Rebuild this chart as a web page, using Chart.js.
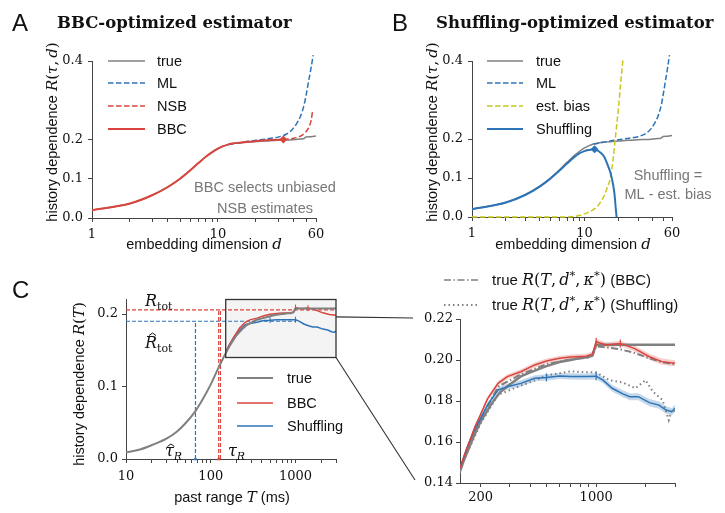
<!DOCTYPE html>
<html>
<head>
<meta charset="utf-8">
<script src="https://cdn.jsdelivr.net/npm/chart.js@4.4.0/dist/chart.umd.min.js"></script>
<style>
html, body { margin: 0; padding: 0; background: #fff; }
#wrap { position: relative; width: 725px; height: 513px; overflow: hidden; }
canvas { position: absolute; left: 0; top: 0; }
</style>
</head>
<body>
<div id="wrap">
  <canvas id="chartA" width="725" height="513"></canvas>
  <canvas id="chartB" width="725" height="513"></canvas>
  <canvas id="chartC" width="725" height="513"></canvas>
  <canvas id="chartZ" width="725" height="513"></canvas>
</div>
<script>
// A, B: embedding dimension d
const dTrue = [1, 2, 3, 4, 5, 6, 7, 8, 9, 10, 11, 12, 13, 15, 17, 20, 23, 26, 30, 33, 37, 41, 45, 48, 50, 55, 60];
const rTrue = [0.02, 0.037, 0.058, 0.079, 0.1, 0.121, 0.14, 0.156, 0.168, 0.177, 0.183, 0.187, 0.189, 0.192, 0.193, 0.195, 0.196, 0.197, 0.198, 0.1985, 0.199, 0.2, 0.2015, 0.202, 0.2065, 0.207, 0.209];

const dBBC = [1, 2, 3, 4, 5, 6, 7, 8, 9, 10, 11, 12, 13, 15, 17, 20, 23, 26, 30, 33];
const rBBC = [0.02, 0.037, 0.058, 0.079, 0.1, 0.121, 0.14, 0.156, 0.168, 0.177, 0.183, 0.187, 0.19, 0.192, 0.194, 0.196, 0.1975, 0.1985, 0.1995, 0.2];

const dNSB = [33, 36, 40, 44, 47, 50, 53, 55, 56.5];
const rNSB = [0.2, 0.201, 0.203, 0.207, 0.212, 0.22, 0.233, 0.25, 0.275];

const dML = [12, 15, 17, 20, 25, 30, 35, 39, 42, 45, 48, 50, 53, 55, 57];
const rML = [0.187, 0.192, 0.195, 0.198, 0.202, 0.206, 0.214, 0.226, 0.24, 0.258, 0.285, 0.312, 0.357, 0.385, 0.415];

const dBias = [1, 3, 6, 8, 9, 10, 11, 12, 13, 14, 15, 16, 17, 18, 19, 20, 21, 22];
const rBias = [0, 0, 0, 0.001, 0.004, 0.008, 0.013, 0.019, 0.027, 0.04, 0.055, 0.077, 0.1, 0.15, 0.215, 0.275, 0.345, 0.405];

const dShuf = [1, 2, 3, 4, 5, 6, 7, 8, 9, 10, 11, 12, 13, 14, 15, 16, 17, 18, 18.5, 19, 19.3];
const rShuf = [0.02, 0.037, 0.057, 0.078, 0.099, 0.119, 0.137, 0.152, 0.163, 0.169, 0.172, 0.174, 0.171, 0.164, 0.154, 0.135, 0.114, 0.082, 0.058, 0.02, 0];

const starA = [33, 0.2];      // BBC 선택 (d, R)
const starB = [12.3, 0.174];  // Shuffling 선택 (d, R)

const dRange = [1, 60];
const dTicks = [1, 2, 3, 4, 5, 6, 7, 8, 9, 10, 20, 30, 40, 50, 60];
const dLabels = [1, 10, 60];
const rTicksAB = [0, 0.1, 0.2, 0.4];

// C: past range T (ms)
const tTrue = [10, 15, 20, 30, 40, 50, 65, 80, 100, 120, 140, 160, 180, 200, 230, 260, 300, 350, 400, 500, 600, 700, 800, 900, 950, 1000, 1500, 2000, 3000];
const rTrueT = [0.009, 0.0135, 0.019, 0.028, 0.038, 0.049, 0.065, 0.082, 0.103, 0.123, 0.139, 0.152, 0.162, 0.17, 0.178, 0.184, 0.188, 0.192, 0.194, 0.197, 0.199, 0.2, 0.201, 0.2015, 0.2025, 0.2075, 0.2075, 0.2075, 0.2075];

const tBBC = [150, 165, 185, 200, 220, 255, 290, 350, 425, 500, 600, 700, 870, 950, 1000, 1150, 1400, 1700, 2100, 2500, 3000];
const rBBCT = [0.1473, 0.157, 0.1675, 0.1735, 0.181, 0.1886, 0.1919, 0.1943, 0.1976, 0.1995, 0.2008, 0.2015, 0.2018, 0.2028, 0.2089, 0.2073, 0.2081, 0.2057, 0.2016, 0.1992, 0.1984];
const bbcBand = [0.0008, 0.0009, 0.001, 0.001, 0.0011, 0.0012, 0.0012, 0.0012, 0.0012, 0.0012, 0.0012, 0.0012, 0.0012, 0.0013, 0.0013, 0.0013, 0.0013, 0.0014, 0.0015, 0.0015, 0.0015];

const tShuf = [150, 165, 185, 200, 220, 255, 290, 350, 425, 500, 600, 700, 870, 1000, 1100, 1250, 1450, 1600, 1800, 2100, 2400, 2650, 2870, 3000];
const rShufT = [0.1473, 0.157, 0.1665, 0.1715, 0.178, 0.1854, 0.187, 0.1886, 0.1911, 0.1915, 0.1922, 0.192, 0.1919, 0.1921, 0.1902, 0.1862, 0.1835, 0.1821, 0.1821, 0.1792, 0.178, 0.1756, 0.1748, 0.1765];
const shufBand = [0.0008, 0.0009, 0.001, 0.0011, 0.0012, 0.0013, 0.0014, 0.0015, 0.0015, 0.0015, 0.0015, 0.0015, 0.0015, 0.0016, 0.0016, 0.0016, 0.0017, 0.0017, 0.0017, 0.0018, 0.0018, 0.0018, 0.0018, 0.0018];

const tBBCtrue = [150, 200, 255, 350, 500, 700, 870, 950, 1000, 1150, 1400, 1700, 2100, 2500, 3000];
const rBBCtrue = [0.147, 0.171, 0.187, 0.193, 0.198, 0.2003, 0.201, 0.202, 0.2066, 0.2062, 0.2052, 0.2035, 0.2008, 0.199, 0.1978];

const tShufTrue = [150, 200, 255, 350, 425, 500, 600, 700, 870, 1000, 1200, 1450, 1730, 1990, 2200, 2520, 2750, 2870, 3000];
const rShufTrue = [0.147, 0.169, 0.183, 0.1875, 0.19, 0.1925, 0.1935, 0.1945, 0.194, 0.194, 0.1902, 0.189, 0.1862, 0.1902, 0.1846, 0.1805, 0.1707, 0.1756, 0.175];

const tBBCmark = [1000, 1400];
const rBBCmark = [0.2089, 0.2081];
const tShufMark = [500, 1000];
const rShufMark = [0.1915, 0.1921];

const rTot = 0.2058;
const rTotHat = 0.19;
const tauR = [124, 130];
const tauRHat = 66;

const tRange = [10, 3000];
const tTicks = [10, 20, 30, 40, 50, 60, 70, 80, 90, 100, 200, 300, 400, 500, 600, 700, 800, 900, 1000, 2000, 3000];
const tLabels = [10, 100, 1000];
const rTicksC = [0, 0.1, 0.2];
const rRangeC = [0, 0.22];

// 확대 영역
const zoomT = [150, 3000];
const zoomR = [0.14, 0.22];
const zTicks = [200, 300, 400, 500, 600, 700, 800, 900, 1000, 2000, 3000];
const zLabels = [200, 1000];
const rTicksZ = [0.14, 0.16, 0.18, 0.2, 0.22];

// 스타일
const SANS = '"Liberation Sans", Arial, sans-serif';
const SERIF = '"DejaVu Serif", serif';
const RED = '#d9453d';
const BLUE = '#2d74b7';
const GRAY = '#808080';
const YELLOW = '#c8c81e';
const INK = '#111';
const AXIS = '#444';
const DASH = [5.5, 2.5];
const DASHDOT = [7, 2.5, 1.5, 2.5];
const DOTS = [1.5, 3];
const TXT = 14.5;

Chart.defaults.font.family = SERIF;
Chart.defaults.font.size = 13;
Chart.defaults.color = INK;

function pts(xs, ys) {
    return xs.map((x, i) => ({ x: x, y: ys[i] }));
}

function line(xs, ys, color, extra) {
    return Object.assign({
        data: pts(xs, ys),
        showLine: true,
        borderColor: color,
        backgroundColor: color,
        borderWidth: 1.5,
        pointRadius: 0,
        fill: false,
        cubicInterpolationMode: 'monotone'
    }, extra || {});
}

function font(size, o) {
    o = o || {};
    return (o.italic ? 'italic ' : '') + (o.bold ? 'bold ' : '') + size + 'px ' + (o.serif ? SERIF : SANS);
}

// 여러 글꼴이 섞인 텍스트: [text, font, dy, hat]
function drawRuns(ctx, runs, x, y, align, color) {
    ctx.save();
    ctx.fillStyle = color || INK;
    ctx.strokeStyle = color || INK;
    ctx.textBaseline = 'alphabetic';
    ctx.textAlign = 'left';
    let w = 0;
    runs.forEach(r => { ctx.font = r[1]; w += ctx.measureText(r[0]).width; });
    let cx = align === 'center' ? x - w / 2 : (align === 'right' ? x - w : x);
    runs.forEach(r => {
        ctx.font = r[1];
        const yy = y + (r[2] || 0);
        ctx.fillText(r[0], cx, yy);
        const ww = ctx.measureText(r[0]).width;
        if (r[3]) {
            const c = cx + ww / 2 + 1.5;
            const top = yy - r[3];
            ctx.lineWidth = 1;
            ctx.beginPath();
            ctx.moveTo(c - 3.5, top + 2.5);
            ctx.lineTo(c, top);
            ctx.lineTo(c + 3.5, top + 2.5);
            ctx.stroke();
        }
        cx += ww;
    });
    ctx.restore();
}

function drawYTitle(ctx, runs, cx, cy) {
    ctx.save();
    ctx.translate(cx, cy);
    ctx.rotate(-Math.PI / 2);
    drawRuns(ctx, runs, 0, 5, 'center');
    ctx.restore();
}

function drawLegend(ctx, items, x0, x1, xText, rows) {
    items.forEach((it, i) => {
        const y = rows[i];
        ctx.save();
        ctx.strokeStyle = it.color;
        ctx.lineWidth = it.width || 1.5;
        ctx.setLineDash(it.dash || []);
        ctx.beginPath();
        ctx.moveTo(x0, y);
        ctx.lineTo(x1, y);
        ctx.stroke();
        ctx.restore();
        drawRuns(ctx, it.runs, xText, y + 5, 'left');
    });
}

function logAxis(range, ticks, labels, pad) {
    return {
        type: 'logarithmic',
        min: range[0],
        max: range[1],
        afterBuildTicks: s => { s.ticks = ticks.map(v => ({ value: v })); },
        afterFit: s => { s.height = 30; },
        ticks: {
            autoSkip: false, maxRotation: 0, padding: pad,
            callback: v => labels.includes(v) ? String(v) : ''
        },
        grid: { drawOnChartArea: false, tickLength: 4, color: AXIS },
        border: { color: AXIS, width: 1 }
    };
}

function linAxis(range, ticks, digits, pad) {
    return {
        type: 'linear',
        min: range[0],
        max: range[1],
        afterBuildTicks: s => { s.ticks = ticks.map(v => ({ value: v })); },
        afterFit: s => { s.width = 50; },
        ticks: { padding: pad, callback: v => v.toFixed(digits) },
        grid: { drawOnChartArea: false, tickLength: 4, color: AXIS },
        border: { color: AXIS, width: 1 }
    };
}

// 아래→위 순서로 받은 레이어에 그리기 순서 지정
function layered(list) {
    list.forEach((ds, i) => { ds.order = -i; });
    return list;
}

function makeChart(id, area, datasets, xAxis, yAxis, plugin) {
    return new Chart(document.getElementById(id), {
        type: 'scatter',
        data: { datasets: layered(datasets) },
        options: {
            responsive: false,
            animation: false,
            devicePixelRatio: 1,
            events: [],
            layout: {
                padding: {
                    left: area.left - 50,
                    top: area.top,
                    right: 725 - area.right,
                    bottom: 513 - area.bottom - 30
                }
            },
            scales: { x: xAxis, y: yAxis },
            plugins: { legend: { display: false }, tooltip: { enabled: false } }
        },
        plugins: [plugin]
    });
}

const mathFont = s => font(s, { serif: 1, italic: 1 });
const romFont = s => font(s, { serif: 1 });

const yTitleAB = [
    ['history dependence ', font(TXT)], ['R', mathFont(15)], ['(', romFont(15)],
    ['τ', mathFont(15)], [',\u2009', romFont(15)], ['d', mathFont(15)], [')', romFont(15)]
];
const xTitleAB = [['embedding dimension ', font(TXT)], ['d', mathFont(15)]];

// A: BBC
const chartA = makeChart('chartA', { left: 92, top: 61, right: 316, bottom: 218 }, [
    line(dTrue, rTrue, GRAY),
    line(dML, rML, BLUE, { borderDash: DASH, clip: false }),
    line(dNSB, rNSB, RED, { borderDash: DASH, clip: false }),
    line(dBBC, rBBC, RED, { borderWidth: 2 }),
    { data: pts([starA[0]], [starA[1]]), pointStyle: 'rectRot', pointRadius: 4, backgroundColor: RED, borderColor: RED, borderWidth: 0, clip: false }
], logAxis(dRange, dTicks, dLabels, 5), linAxis([0, 0.4], rTicksAB, 1, 5), {
    id: 'decorA',
    afterDraw(chart) {
        const ctx = chart.ctx;
        drawRuns(ctx, [['A', font(24)]], 12, 31, 'left');
        drawRuns(ctx, [['BBC-optimized estimator', font(16.5, { serif: 1, bold: 1 })]], 57, 28, 'left');
        drawLegend(ctx, [
            { color: GRAY, runs: [['true', font(TXT)]] },
            { color: BLUE, dash: DASH, runs: [['ML', font(TXT)]] },
            { color: RED, dash: DASH, runs: [['NSB', font(TXT)]] },
            { color: RED, width: 2, runs: [['BBC', font(TXT)]] }
        ], 108, 145, 157, [61, 83, 106, 129]);
        drawRuns(ctx, [['BBC selects unbiased', font(TXT)]], 265, 192, 'center', '#777');
        drawRuns(ctx, [['NSB estimates', font(TXT)]], 265, 213, 'center', '#777');
        drawYTitle(ctx, yTitleAB, 52, 132);
        drawRuns(ctx, xTitleAB, 204, 249, 'center');
    }
});

// B: Shuffling
const chartB = makeChart('chartB', { left: 472, top: 61, right: 672, bottom: 217 }, [
    line(dTrue, rTrue, GRAY),
    line(dML, rML, BLUE, { borderDash: DASH, clip: false }),
    line(dBias, rBias, YELLOW, { borderDash: DASH, clip: false }),
    line(dShuf, rShuf, BLUE, { borderWidth: 2 }),
    { data: pts([starB[0]], [starB[1]]), pointStyle: 'rectRot', pointRadius: 4, backgroundColor: BLUE, borderColor: BLUE, borderWidth: 0, clip: false }
], logAxis(dRange, dTicks, dLabels, 5), linAxis([0, 0.4], rTicksAB, 1, 5), {
    id: 'decorB',
    afterDraw(chart) {
        const ctx = chart.ctx;
        drawRuns(ctx, [['B', font(24)]], 392, 31, 'left');
        drawRuns(ctx, [['Shuffling-optimized estimator', font(16.5, { serif: 1, bold: 1 })]], 436, 28, 'left');
        drawLegend(ctx, [
            { color: GRAY, runs: [['true', font(TXT)]] },
            { color: BLUE, dash: DASH, runs: [['ML', font(TXT)]] },
            { color: YELLOW, dash: DASH, runs: [['est. bias', font(TXT)]] },
            { color: BLUE, width: 2, runs: [['Shuffling', font(TXT)]] }
        ], 487, 523, 536, [61, 83, 106, 129]);
        drawRuns(ctx, [['Shuffling =', font(TXT)]], 668, 180, 'center', '#777');
        drawRuns(ctx, [['ML - est. bias', font(TXT)]], 668, 199, 'center', '#777');
        drawYTitle(ctx, yTitleAB, 432, 132);
        drawRuns(ctx, xTitleAB, 573, 249, 'center');
    }
});

// C: past range
const GUIDE = [4, 2];
const guideLine = (xs, ys, color) => line(xs, ys, color, { borderWidth: 1.2, borderDash: GUIDE, cubicInterpolationMode: 'default' });

const chartC = makeChart('chartC', { left: 126, top: 299.5, right: 336, bottom: 459 }, [
    guideLine([tRange[0], tShufMark[1]], [rTotHat, rTotHat], BLUE),
    guideLine([tauRHat, tauRHat], [0, rTotHat], BLUE),
    guideLine([tRange[0], tRange[1]], [rTot, rTot], RED),
    guideLine([tauR[0], tauR[0]], [0, rTot], RED),
    guideLine([tauR[1], tauR[1]], [0, rTot], RED),
    line(tShuf, rShufT, BLUE, { cubicInterpolationMode: 'default' }),
    line(tBBC, rBBCT, RED, { cubicInterpolationMode: 'default' }),
    line(tTrue, rTrueT, GRAY, { borderWidth: 2 }),
    { data: pts(tBBCmark, rBBCmark), pointStyle: 'line', rotation: 90, pointRadius: 3, borderColor: RED, borderWidth: 1 },
    { data: pts(tShufMark, rShufMark), pointStyle: 'line', rotation: 90, pointRadius: 3, borderColor: BLUE, borderWidth: 1 },
    { data: pts([tauRHat], [0]), pointStyle: 'triangle', pointRadius: 2.5, backgroundColor: BLUE, borderColor: BLUE, borderWidth: 0, clip: false },
    { data: pts([tauR[0]], [0]), pointStyle: 'triangle', pointRadius: 2.5, backgroundColor: RED, borderColor: RED, borderWidth: 0, clip: false }
], logAxis(tRange, tTicks, tLabels, 6), linAxis(rRangeC, rTicksC, 1, 4), {
    id: 'decorC',
    beforeDatasetsDraw(chart) {
        const ctx = chart.ctx, xs = chart.scales.x, ys = chart.scales.y;
        const x0 = xs.getPixelForValue(zoomT[0]), x1 = xs.getPixelForValue(zoomT[1]);
        const y0 = ys.getPixelForValue(zoomR[1]), y1 = ys.getPixelForValue(zoomR[0]);
        ctx.save();
        ctx.fillStyle = '#f4f4f4';
        ctx.fillRect(x0, y0, x1 - x0, y1 - y0);
        ctx.restore();
    },
    afterDraw(chart) {
        const ctx = chart.ctx, xs = chart.scales.x, ys = chart.scales.y;
        const x0 = xs.getPixelForValue(zoomT[0]), x1 = xs.getPixelForValue(zoomT[1]);
        const y0 = ys.getPixelForValue(zoomR[1]), y1 = ys.getPixelForValue(zoomR[0]);
        ctx.save();
        ctx.strokeStyle = '#333';
        ctx.lineWidth = 1.3;
        ctx.strokeRect(x0, y0, x1 - x0, y1 - y0);
        ctx.restore();

        drawRuns(ctx, [['C', font(24)]], 12, 298, 'left');
        drawLegend(ctx, [
            { color: GRAY, width: 2, runs: [['true', font(TXT)]] },
            { color: RED, runs: [['BBC', font(TXT)]] },
            { color: BLUE, runs: [['Shuffling', font(TXT)]] }
        ], 237, 273, 287, [378, 403, 426]);
        drawRuns(ctx, [['R', mathFont(16)], ['tot', romFont(11), 4]], 145, 306, 'left');
        drawRuns(ctx, [['R', mathFont(16), 0, 15], ['tot', romFont(11), 4]], 145, 348, 'left');
        drawRuns(ctx, [['τ', mathFont(16), 0, 12], ['R', mathFont(11), 4]], 165, 456, 'left');
        drawRuns(ctx, [['τ', mathFont(16)], ['R', mathFont(11), 4]], 228, 456, 'left');
        drawYTitle(ctx, [['history dependence ', font(TXT)], ['R', mathFont(15)], ['(', romFont(15)], ['T', mathFont(15)], [')', romFont(15)]], 79, 384);
        drawRuns(ctx, [['past range ', font(TXT)], ['T', mathFont(15)], [' (ms)', font(TXT)]], 232, 502, 'center');
    }
});

// 확대 패널
const bandBBC = [
    line(tBBC, rBBCT.map((r, i) => r + bbcBand[i]), 'rgba(0,0,0,0)', { borderWidth: 0, cubicInterpolationMode: 'default' }),
    line(tBBC, rBBCT.map((r, i) => r - bbcBand[i]), 'rgba(0,0,0,0)', { borderWidth: 0, fill: '-1', backgroundColor: 'rgba(217,69,61,0.25)', cubicInterpolationMode: 'default' })
];
const bandShuf = [
    line(tShuf, rShufT.map((r, i) => r + shufBand[i]), 'rgba(0,0,0,0)', { borderWidth: 0, cubicInterpolationMode: 'default' }),
    line(tShuf, rShufT.map((r, i) => r - shufBand[i]), 'rgba(0,0,0,0)', { borderWidth: 0, fill: '-1', backgroundColor: 'rgba(45,116,183,0.28)', cubicInterpolationMode: 'default' })
];
const zArea = { left: 460, top: 319, right: 675, bottom: 483 };
const zLegendMath = [
    ['true ', font(15)], ['R', mathFont(16)], ['(', romFont(16)], ['T', mathFont(16)], [',\u2009', romFont(16)],
    ['d', mathFont(16)], ['*', romFont(11.5), -6.5], [',\u2009', romFont(16)], ['κ', mathFont(16)], ['*', romFont(11.5), -6.5], [')', romFont(16)]
];

const chartZ = makeChart('chartZ', zArea, [
    bandBBC[0], bandBBC[1], bandShuf[0], bandShuf[1],
    line(tTrue, rTrueT, GRAY, { borderWidth: 2.5, cubicInterpolationMode: 'default' }),
    line(tBBCtrue, rBBCtrue, GRAY, { borderWidth: 2, borderDash: DASHDOT, cubicInterpolationMode: 'default' }),
    line(tShufTrue, rShufTrue, GRAY, { borderWidth: 2, borderDash: DOTS, cubicInterpolationMode: 'default' }),
    line(tShuf, rShufT, BLUE, { cubicInterpolationMode: 'default' }),
    line(tBBC, rBBCT, RED, { cubicInterpolationMode: 'default' }),
    { data: pts(tBBCmark, rBBCmark), pointStyle: 'line', rotation: 90, pointRadius: 4, borderColor: RED, borderWidth: 1.2 },
    { data: pts(tShufMark, rShufMark), pointStyle: 'line', rotation: 90, pointRadius: 4, borderColor: BLUE, borderWidth: 1.2 }
], logAxis(zoomT, zTicks, zLabels, 3), linAxis(zoomR, rTicksZ, 2, 3), {
    id: 'decorZ',
    afterDraw(chart) {
        const ctx = chart.ctx, a = chart.chartArea;
        // 확대 연결선
        const xs = chartC.scales.x, ys = chartC.scales.y;
        const bx = xs.getPixelForValue(zoomT[1]);
        const byTop = ys.getPixelForValue(zoomR[1]), byBot = ys.getPixelForValue(zoomR[0]);
        ctx.save();
        ctx.strokeStyle = '#333';
        ctx.lineWidth = 1.1;
        ctx.beginPath();
        ctx.moveTo(bx, byTop + 0.3 * (byBot - byTop));
        ctx.lineTo(a.left - 47, a.top - 1);
        ctx.moveTo(bx, byBot);
        ctx.lineTo(a.left - 45, a.bottom - 3);
        ctx.stroke();
        ctx.restore();

        drawLegend(ctx, [
            { color: GRAY, dash: DASHDOT, runs: zLegendMath.concat([[' (BBC)', font(15)]]) },
            { color: GRAY, dash: DOTS, width: 2, runs: zLegendMath.concat([[' (Shuffling)', font(15)]]) }
        ], 444, 480, 492, [280, 305]);
    }
});
</script>
</body>
</html>
